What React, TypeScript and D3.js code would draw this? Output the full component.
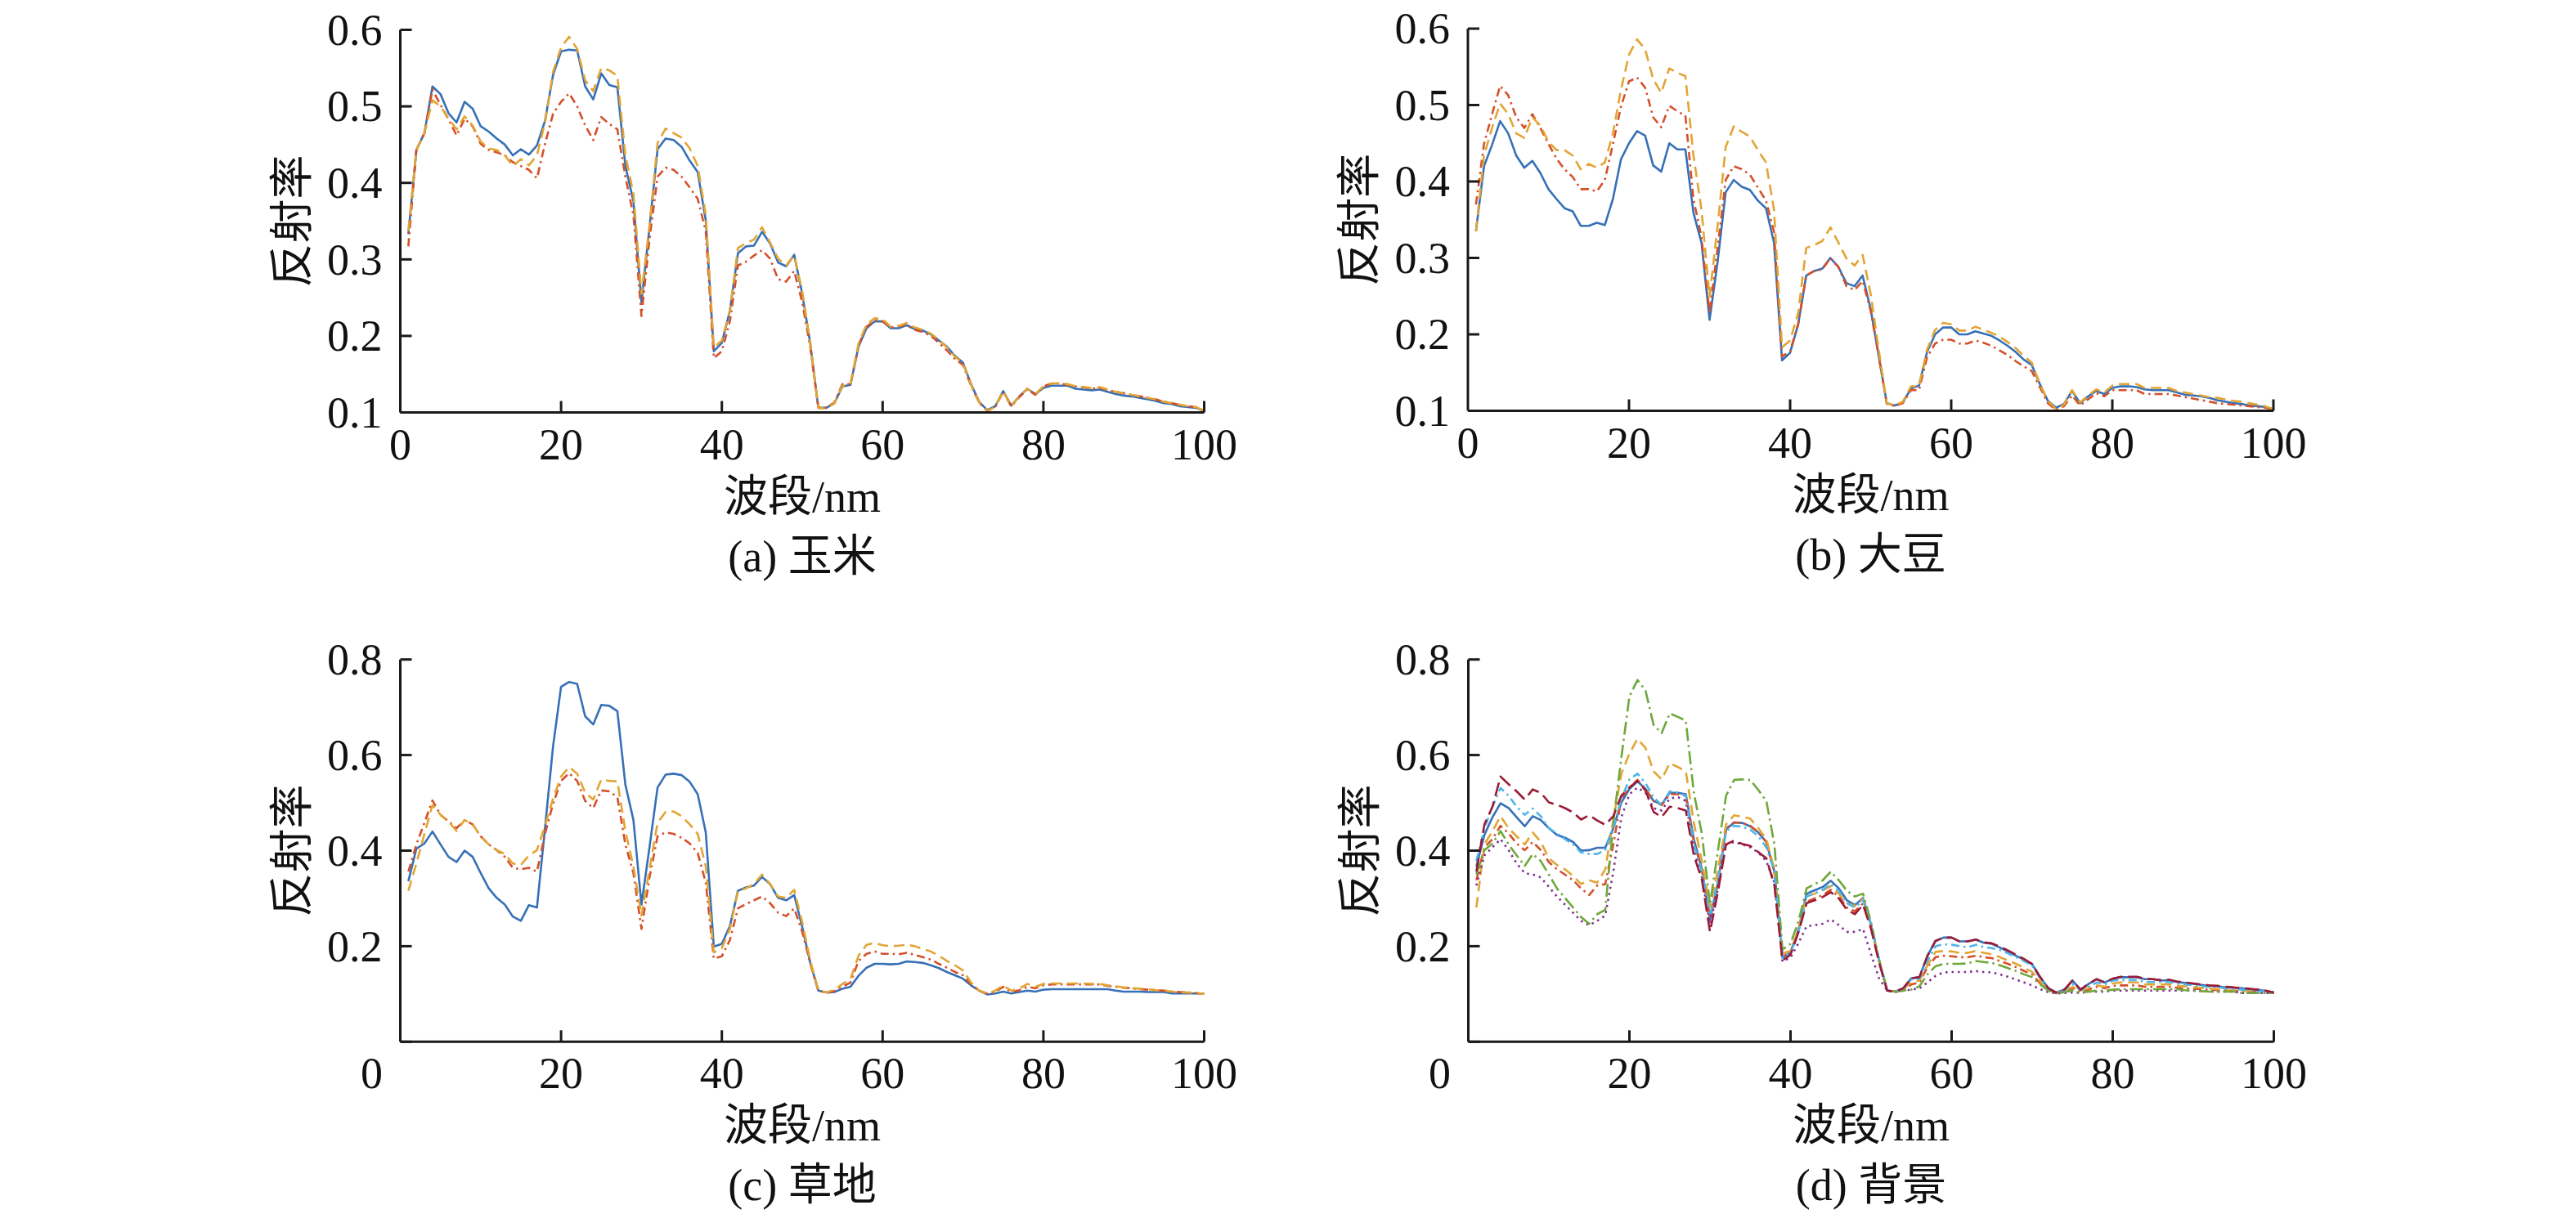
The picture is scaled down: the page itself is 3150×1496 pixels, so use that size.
import React from 'react';
import * as d3 from 'd3';

// band index 1..100 (x axis, nm)
const BANDS = Array.from({ length: 100 }, (_, i) => i + 1);
const X_TICKS = [0, 20, 40, 60, 80, 100];
const Y_TICKS_TOP = [0.1, 0.2, 0.3, 0.4, 0.5, 0.6];
const Y_TICKS_BOTTOM = [0, 0.2, 0.4, 0.6, 0.8];

// (a) 玉米
const A_BLUE = [
  0.333, 0.443, 0.465, 0.526, 0.516, 0.491, 0.479, 0.506, 0.497, 0.474,
  0.467, 0.458, 0.45, 0.436, 0.444, 0.437, 0.449, 0.481, 0.541, 0.572,
  0.574, 0.573, 0.526, 0.509, 0.543, 0.528, 0.525, 0.422, 0.376, 0.244,
  0.342, 0.444, 0.458, 0.456, 0.447, 0.429, 0.414, 0.351, 0.18, 0.191,
  0.233, 0.308, 0.317, 0.318, 0.336, 0.321, 0.296, 0.291, 0.306, 0.255,
  0.19, 0.106, 0.106, 0.112, 0.134, 0.136, 0.186, 0.21, 0.219, 0.219,
  0.21, 0.21, 0.214, 0.209, 0.207, 0.202, 0.194, 0.186, 0.174, 0.165,
  0.137, 0.114, 0.103, 0.108, 0.128, 0.109, 0.121, 0.131, 0.124, 0.132,
  0.135, 0.135, 0.135, 0.131, 0.13, 0.129, 0.13, 0.127, 0.124, 0.122,
  0.121, 0.119, 0.117, 0.115, 0.112, 0.111, 0.108, 0.107, 0.106, 0.102,
];
const A_RED = [
  0.317, 0.443, 0.465, 0.522, 0.502, 0.483, 0.462, 0.484, 0.474, 0.451,
  0.443, 0.44, 0.436, 0.427, 0.422, 0.417, 0.406, 0.451, 0.49, 0.506,
  0.517, 0.5, 0.475, 0.456, 0.486, 0.477, 0.47, 0.408, 0.358, 0.226,
  0.326, 0.408, 0.42, 0.417, 0.408, 0.394, 0.379, 0.337, 0.171, 0.18,
  0.219, 0.292, 0.297, 0.305, 0.312, 0.301, 0.274, 0.271, 0.285, 0.244,
  0.185, 0.107, 0.106, 0.113, 0.137, 0.137, 0.188, 0.212, 0.22, 0.219,
  0.211, 0.213, 0.214, 0.208, 0.205, 0.2, 0.191, 0.181, 0.17, 0.162,
  0.135, 0.113, 0.102, 0.107, 0.127, 0.108, 0.12, 0.13, 0.123, 0.134,
  0.138, 0.138, 0.136, 0.134, 0.133, 0.131, 0.132, 0.129, 0.127, 0.125,
  0.123, 0.121, 0.119, 0.117, 0.114, 0.112, 0.11, 0.108, 0.107, 0.102,
];
const A_YELLOW = [
  0.337, 0.443, 0.465, 0.508, 0.5, 0.484, 0.47, 0.487, 0.475, 0.454,
  0.445, 0.443, 0.436, 0.422, 0.431, 0.423, 0.436, 0.479, 0.545, 0.577,
  0.591, 0.575, 0.534, 0.52, 0.55, 0.547, 0.54, 0.436, 0.386, 0.255,
  0.344, 0.452, 0.471, 0.465, 0.459, 0.445, 0.422, 0.358, 0.185, 0.194,
  0.233, 0.315, 0.321, 0.326, 0.342, 0.322, 0.301, 0.292, 0.305, 0.258,
  0.19, 0.106, 0.105, 0.112, 0.135, 0.137, 0.19, 0.215, 0.223, 0.222,
  0.212, 0.213, 0.217, 0.211, 0.208, 0.203, 0.195, 0.185, 0.173, 0.164,
  0.136, 0.113, 0.102, 0.107, 0.128, 0.108, 0.121, 0.131, 0.124, 0.134,
  0.138, 0.138, 0.137, 0.134, 0.133, 0.132, 0.133, 0.13, 0.127, 0.125,
  0.123, 0.121, 0.119, 0.117, 0.114, 0.112, 0.11, 0.108, 0.107, 0.102,
];

// (b) 大豆
const B_BLUE = [
  0.335, 0.42, 0.448, 0.479, 0.463, 0.434, 0.418, 0.427, 0.411, 0.39,
  0.377, 0.365, 0.361, 0.342, 0.342, 0.346, 0.343, 0.377, 0.429, 0.45,
  0.466, 0.46, 0.421, 0.413, 0.45, 0.442, 0.442, 0.359, 0.32, 0.219,
  0.295, 0.386, 0.402, 0.393, 0.389, 0.375, 0.365, 0.32, 0.166, 0.176,
  0.213, 0.277, 0.283, 0.286, 0.3, 0.288, 0.267, 0.263, 0.277, 0.233,
  0.172, 0.11, 0.107, 0.111, 0.129, 0.133, 0.177, 0.2, 0.209, 0.209,
  0.2, 0.2, 0.204, 0.201, 0.198, 0.192, 0.185, 0.177, 0.167, 0.16,
  0.135, 0.113, 0.104, 0.109, 0.126, 0.11, 0.119, 0.126, 0.122, 0.13,
  0.132, 0.132, 0.131, 0.128, 0.127, 0.127, 0.127, 0.124, 0.121, 0.12,
  0.119, 0.117, 0.114, 0.112, 0.11, 0.109, 0.107, 0.106, 0.105, 0.102,
];
const B_RED = [
  0.37, 0.449, 0.488, 0.525, 0.513, 0.484, 0.47, 0.488, 0.47, 0.449,
  0.43, 0.416, 0.406, 0.39, 0.39, 0.387, 0.402, 0.449, 0.498, 0.531,
  0.536, 0.523, 0.484, 0.471, 0.499, 0.492, 0.486, 0.377, 0.327, 0.228,
  0.313, 0.402, 0.42, 0.416, 0.409, 0.392, 0.375, 0.334, 0.171, 0.178,
  0.213, 0.277, 0.283, 0.285, 0.3, 0.288, 0.263, 0.258, 0.27, 0.231,
  0.172, 0.109, 0.106, 0.11, 0.127, 0.127, 0.17, 0.188, 0.193, 0.193,
  0.188, 0.188, 0.192, 0.189, 0.185, 0.179, 0.173, 0.165, 0.158, 0.152,
  0.131, 0.11, 0.101, 0.106, 0.12, 0.107, 0.115, 0.123, 0.119, 0.127,
  0.127, 0.127, 0.127, 0.122, 0.122, 0.122, 0.122, 0.12, 0.118, 0.116,
  0.114, 0.112, 0.11, 0.109, 0.108, 0.107, 0.106, 0.105, 0.104, 0.102,
];
const B_YELLOW = [
  0.335, 0.434, 0.47, 0.502, 0.488, 0.463, 0.457, 0.484, 0.473, 0.452,
  0.441, 0.441, 0.434, 0.416, 0.423, 0.418, 0.425, 0.463, 0.52, 0.566,
  0.586, 0.573, 0.534, 0.516, 0.548, 0.542, 0.538, 0.434, 0.363, 0.249,
  0.342, 0.445, 0.472, 0.465, 0.459, 0.441, 0.425, 0.363, 0.183, 0.192,
  0.228, 0.313, 0.317, 0.322, 0.34, 0.32, 0.299, 0.29, 0.304, 0.253,
  0.18, 0.11, 0.107, 0.112, 0.132, 0.132, 0.18, 0.206, 0.215, 0.213,
  0.205, 0.205, 0.21, 0.206, 0.202, 0.197, 0.19, 0.182, 0.172, 0.163,
  0.135, 0.113, 0.102, 0.108, 0.127, 0.111, 0.12, 0.128, 0.124, 0.133,
  0.135, 0.135, 0.135, 0.13, 0.13, 0.13, 0.13, 0.126, 0.124, 0.122,
  0.12, 0.118, 0.117, 0.115, 0.113, 0.112, 0.11, 0.108, 0.106, 0.102,
];

// (c) 草地
const C_BLUE = [
  0.336, 0.404, 0.415, 0.44, 0.413, 0.387, 0.376, 0.4, 0.387, 0.353,
  0.321, 0.301, 0.287, 0.262, 0.253, 0.286, 0.281, 0.447, 0.618, 0.743,
  0.753, 0.749, 0.681, 0.664, 0.705, 0.703, 0.692, 0.538, 0.464, 0.287,
  0.407, 0.532, 0.559, 0.561, 0.558, 0.544, 0.518, 0.438, 0.199, 0.205,
  0.242, 0.316, 0.323, 0.327, 0.345, 0.33, 0.301, 0.296, 0.307, 0.24,
  0.165, 0.107, 0.103, 0.104, 0.111, 0.115, 0.138, 0.155, 0.163, 0.163,
  0.162, 0.163, 0.168, 0.167, 0.165, 0.16, 0.154, 0.146, 0.139, 0.132,
  0.118, 0.107, 0.099, 0.101, 0.105, 0.101, 0.104, 0.107, 0.105, 0.109,
  0.11, 0.11, 0.11, 0.11, 0.11, 0.11, 0.11, 0.11, 0.107, 0.105,
  0.105, 0.105, 0.104, 0.104, 0.104, 0.101, 0.101, 0.101, 0.101, 0.101,
];
const C_RED = [
  0.356, 0.413, 0.458, 0.505, 0.475, 0.461, 0.447, 0.464, 0.455, 0.43,
  0.413, 0.401, 0.387, 0.364, 0.361, 0.364, 0.356, 0.435, 0.498, 0.546,
  0.562, 0.546, 0.504, 0.489, 0.526, 0.524, 0.512, 0.413, 0.353, 0.236,
  0.344, 0.43, 0.438, 0.435, 0.427, 0.415, 0.395, 0.333, 0.174, 0.179,
  0.213, 0.279, 0.288, 0.296, 0.304, 0.29, 0.27, 0.263, 0.279, 0.23,
  0.165, 0.107, 0.103, 0.106, 0.115, 0.124, 0.169, 0.184, 0.189, 0.184,
  0.184, 0.183, 0.186, 0.182, 0.177, 0.172, 0.163, 0.155, 0.146, 0.139,
  0.121, 0.107, 0.101, 0.104, 0.115, 0.104, 0.108, 0.115, 0.112, 0.118,
  0.12, 0.12, 0.12, 0.12, 0.12, 0.12, 0.12, 0.117, 0.115, 0.113,
  0.112, 0.11, 0.109, 0.108, 0.107, 0.105, 0.104, 0.103, 0.102, 0.1,
];
const C_YELLOW = [
  0.316, 0.373, 0.435, 0.495, 0.475, 0.461, 0.441, 0.464, 0.455, 0.43,
  0.413, 0.401, 0.393, 0.373, 0.37, 0.39, 0.401, 0.452, 0.509, 0.555,
  0.575, 0.561, 0.521, 0.507, 0.549, 0.546, 0.545, 0.441, 0.367, 0.264,
  0.361, 0.458, 0.481, 0.482, 0.472, 0.455, 0.435, 0.367, 0.187, 0.196,
  0.236, 0.316, 0.321, 0.33, 0.35, 0.33, 0.304, 0.301, 0.318, 0.25,
  0.17, 0.107, 0.103, 0.109, 0.121, 0.131, 0.18, 0.203, 0.207, 0.202,
  0.2, 0.201, 0.203, 0.2, 0.194, 0.189, 0.18, 0.169, 0.16, 0.149,
  0.124, 0.107, 0.101, 0.107, 0.118, 0.107, 0.111, 0.121, 0.115, 0.121,
  0.122, 0.122, 0.122, 0.122, 0.122, 0.121, 0.121, 0.118, 0.116, 0.114,
  0.112, 0.111, 0.11, 0.108, 0.107, 0.105, 0.104, 0.103, 0.102, 0.1,
];

// (d) 背景
const D_BLUE = [
  0.367, 0.433, 0.47, 0.499, 0.489, 0.47, 0.451, 0.472, 0.464, 0.447,
  0.433, 0.427, 0.418, 0.4, 0.401, 0.406, 0.406, 0.447, 0.501, 0.529,
  0.545, 0.529, 0.504, 0.497, 0.521, 0.521, 0.518, 0.424, 0.361, 0.256,
  0.333, 0.444, 0.459, 0.458, 0.451, 0.438, 0.418, 0.356, 0.176, 0.187,
  0.236, 0.31, 0.317, 0.324, 0.337, 0.321, 0.296, 0.286, 0.301, 0.245,
  0.17, 0.107, 0.105, 0.112, 0.133, 0.135, 0.18, 0.211, 0.218, 0.218,
  0.21, 0.21, 0.214, 0.207, 0.205, 0.197, 0.189, 0.18, 0.172, 0.162,
  0.135, 0.112, 0.103, 0.109, 0.128, 0.109, 0.121, 0.131, 0.124, 0.132,
  0.135, 0.135, 0.135, 0.131, 0.131, 0.128, 0.129, 0.125, 0.123, 0.121,
  0.119, 0.117, 0.116, 0.114, 0.113, 0.112, 0.11, 0.109, 0.106, 0.103,
];
const D_RED = [
  0.338, 0.407, 0.424, 0.452, 0.436, 0.415, 0.401, 0.418, 0.401, 0.376,
  0.361, 0.35, 0.338, 0.321, 0.307, 0.327, 0.33, 0.413, 0.509, 0.532,
  0.548, 0.529, 0.504, 0.495, 0.518, 0.518, 0.515, 0.418, 0.361, 0.259,
  0.333, 0.447, 0.459, 0.458, 0.452, 0.438, 0.418, 0.356, 0.179, 0.187,
  0.233, 0.293, 0.3, 0.307, 0.318, 0.304, 0.281, 0.273, 0.29, 0.241,
  0.17, 0.107, 0.105, 0.108, 0.12, 0.124, 0.156, 0.177, 0.18, 0.179,
  0.177, 0.177, 0.18, 0.177, 0.175, 0.169, 0.163, 0.156, 0.148, 0.141,
  0.122, 0.108, 0.102, 0.105, 0.112, 0.105, 0.109, 0.115, 0.112, 0.117,
  0.118, 0.118, 0.118, 0.115, 0.115, 0.115, 0.115, 0.113, 0.112, 0.111,
  0.11, 0.109, 0.108, 0.107, 0.107, 0.106, 0.105, 0.104, 0.103, 0.102,
];
const D_YELLOW = [
  0.281, 0.413, 0.441, 0.472, 0.447, 0.43, 0.413, 0.438, 0.418, 0.384,
  0.37, 0.361, 0.347, 0.33, 0.338, 0.333, 0.361, 0.464, 0.561, 0.603,
  0.634, 0.615, 0.566, 0.549, 0.583, 0.575, 0.566, 0.458, 0.378, 0.281,
  0.361, 0.455, 0.474, 0.471, 0.467, 0.447, 0.424, 0.361, 0.185, 0.19,
  0.236, 0.304, 0.31, 0.317, 0.326, 0.31, 0.29, 0.284, 0.299, 0.244,
  0.17, 0.107, 0.105, 0.11, 0.125, 0.128, 0.16, 0.188, 0.19, 0.189,
  0.186, 0.186, 0.19, 0.186, 0.183, 0.177, 0.17, 0.163, 0.155, 0.146,
  0.126, 0.109, 0.102, 0.107, 0.115, 0.107, 0.112, 0.118, 0.115, 0.122,
  0.124, 0.124, 0.124, 0.12, 0.12, 0.12, 0.12, 0.117, 0.116, 0.114,
  0.113, 0.111, 0.11, 0.108, 0.107, 0.107, 0.106, 0.105, 0.104, 0.102,
];
const D_PURPLE = [
  0.327, 0.39, 0.407, 0.424, 0.401, 0.373, 0.353, 0.35, 0.344, 0.324,
  0.304, 0.287, 0.27, 0.253, 0.244, 0.253, 0.264, 0.356, 0.47, 0.518,
  0.532, 0.521, 0.489, 0.484, 0.509, 0.512, 0.504, 0.401, 0.344, 0.247,
  0.321, 0.413, 0.418, 0.413, 0.407, 0.396, 0.378, 0.333, 0.168, 0.176,
  0.207, 0.242, 0.244, 0.247, 0.256, 0.244, 0.23, 0.23, 0.236, 0.183,
  0.132, 0.107, 0.104, 0.107, 0.109, 0.112, 0.124, 0.138, 0.145, 0.146,
  0.146, 0.146, 0.148, 0.146, 0.145, 0.141, 0.136, 0.13, 0.124, 0.118,
  0.11, 0.104, 0.101, 0.102, 0.103, 0.102, 0.105, 0.105, 0.105, 0.107,
  0.107, 0.107, 0.107, 0.107, 0.107, 0.107, 0.107, 0.107, 0.107, 0.107,
  0.106, 0.105, 0.105, 0.105, 0.105, 0.102, 0.102, 0.102, 0.102, 0.102,
];
const D_GREEN = [
  0.35, 0.401, 0.415, 0.441, 0.413, 0.39, 0.368, 0.393, 0.378, 0.35,
  0.321, 0.301, 0.281, 0.261, 0.247, 0.267, 0.276, 0.458, 0.595, 0.723,
  0.757, 0.735, 0.663, 0.646, 0.687, 0.68, 0.672, 0.521, 0.435, 0.287,
  0.401, 0.515, 0.548, 0.549, 0.548, 0.527, 0.504, 0.413, 0.193, 0.205,
  0.253, 0.321, 0.33, 0.338, 0.356, 0.338, 0.316, 0.304, 0.31, 0.25,
  0.17, 0.107, 0.105, 0.107, 0.109, 0.116, 0.141, 0.158, 0.163, 0.163,
  0.163, 0.164, 0.169, 0.167, 0.165, 0.16, 0.154, 0.148, 0.141, 0.135,
  0.12, 0.107, 0.101, 0.104, 0.107, 0.103, 0.105, 0.107, 0.107, 0.109,
  0.11, 0.11, 0.11, 0.11, 0.11, 0.11, 0.11, 0.11, 0.108, 0.107,
  0.106, 0.105, 0.105, 0.105, 0.105, 0.102, 0.102, 0.102, 0.102, 0.102,
];
const D_LIGHTBLUE = [
  0.378, 0.447, 0.492, 0.531, 0.515, 0.492, 0.475, 0.488, 0.472, 0.447,
  0.436, 0.424, 0.413, 0.396, 0.393, 0.393, 0.401, 0.447, 0.509, 0.549,
  0.561, 0.541, 0.512, 0.495, 0.524, 0.521, 0.515, 0.413, 0.356, 0.264,
  0.339, 0.441, 0.452, 0.45, 0.444, 0.43, 0.407, 0.356, 0.176, 0.185,
  0.23, 0.304, 0.311, 0.318, 0.33, 0.316, 0.29, 0.281, 0.296, 0.244,
  0.17, 0.107, 0.105, 0.111, 0.13, 0.132, 0.169, 0.2, 0.204, 0.203,
  0.2, 0.198, 0.203, 0.198, 0.196, 0.192, 0.185, 0.177, 0.169, 0.159,
  0.132, 0.111, 0.103, 0.108, 0.121, 0.108, 0.115, 0.124, 0.12, 0.128,
  0.129, 0.129, 0.129, 0.125, 0.125, 0.125, 0.125, 0.122, 0.12, 0.118,
  0.116, 0.115, 0.114, 0.112, 0.111, 0.109, 0.108, 0.106, 0.105, 0.102,
];
const D_DARKRED = [
  0.356, 0.455, 0.492, 0.555, 0.539, 0.524, 0.507, 0.528, 0.521, 0.501,
  0.496, 0.489, 0.48, 0.465, 0.474, 0.463, 0.454, 0.472, 0.515, 0.532,
  0.546, 0.526, 0.481, 0.47, 0.492, 0.489, 0.484, 0.39, 0.339, 0.23,
  0.315, 0.413, 0.421, 0.414, 0.41, 0.397, 0.384, 0.327, 0.17, 0.182,
  0.23, 0.29, 0.296, 0.303, 0.313, 0.3, 0.276, 0.267, 0.287, 0.236,
  0.165, 0.107, 0.105, 0.112, 0.133, 0.135, 0.18, 0.211, 0.218, 0.218,
  0.21, 0.21, 0.214, 0.208, 0.206, 0.199, 0.191, 0.182, 0.173, 0.163,
  0.135, 0.112, 0.103, 0.109, 0.128, 0.109, 0.121, 0.131, 0.124, 0.132,
  0.136, 0.136, 0.136, 0.132, 0.131, 0.129, 0.13, 0.126, 0.124, 0.122,
  0.12, 0.118, 0.117, 0.115, 0.114, 0.112, 0.111, 0.109, 0.107, 0.103,
];

const COLOR = {
  blue: '#3670b7',
  red: '#d4502a',
  yellow: '#e2a534',
  purple: '#7e3090',
  green: '#6ea83a',
  lightBlue: '#4fb5e6',
  darkRed: '#9b1b36',
};

const DASH = {
  solid: null,
  dashDot: '10,5,2.5,5',
  dashed: '13,7',
  dotted: '2.5,5',
  longDashDot: '16,5,2.5,5',
  longDashed: '17,7',
};

const FONT = "'Liberation Serif', 'Times New Roman', 'Noto Sans CJK SC', serif";

type Series = { values: number[]; color: string; dash: string | null };

interface PanelProps {
  left: number;
  right: number;
  top: number;
  bottom: number;
  yDomain: [number, number];
  yTicks: number[];
  series: Series[];
  caption: string;
  zeroShift: number;
}

function Panel({ left, right, top, bottom, yDomain, yTicks, series, caption, zeroShift }: PanelProps) {
  const x = d3.scaleLinear().domain([0, 100]).range([left, right]);
  const y = d3.scaleLinear().domain(yDomain).range([bottom, top]);
  const line = d3
    .line<number>()
    .x((_, i) => x(BANDS[i]))
    .y((d) => y(d));
  const fmt = d3.format('.1f');
  const tickLen = 14;
  const midX = (left + right) / 2;
  const midY = (top + bottom) / 2;

  return (
    <g>
      {series.map((s, i) => (
        <path
          key={i}
          d={line(s.values) ?? ''}
          fill="none"
          stroke={s.color}
          strokeWidth={2.6}
          strokeDasharray={s.dash ?? undefined}
          strokeLinejoin="round"
        />
      ))}

      {/* axes */}
      <line x1={left} x2={right} y1={bottom} y2={bottom} stroke="#1a1a1a" strokeWidth={3} />
      <line x1={left} x2={left} y1={bottom} y2={y(yDomain[1])} stroke="#1a1a1a" strokeWidth={3} />

      {X_TICKS.map((t) => (
        <g key={`x${t}`}>
          {t > 0 && (
            <line x1={x(t)} x2={x(t)} y1={bottom} y2={bottom - tickLen} stroke="#1a1a1a" strokeWidth={3} />
          )}
          <text
            x={x(t) + (t === 0 ? zeroShift : 0)}
            y={bottom + 57}
            textAnchor="middle"
            fontSize={54}
            fontFamily={FONT}
            fill="#111"
          >
            {t}
          </text>
        </g>
      ))}

      {yTicks.map((t) => (
        <g key={`y${t}`}>
          <line x1={left} x2={left + tickLen} y1={y(t)} y2={y(t)} stroke="#1a1a1a" strokeWidth={3} />
          {t > 0 && (
            <text
              x={left - 22}
              y={y(t)}
              dy="0.34em"
              textAnchor="end"
              fontSize={54}
              fontFamily={FONT}
              fill="#111"
            >
              {fmt(t)}
            </text>
          )}
        </g>
      ))}

      <text
        transform={`translate(${left - 132},${midY}) rotate(-90)`}
        textAnchor="middle"
        dominantBaseline="central"
        fontSize={54}
        fontFamily={FONT}
        fill="#111"
      >
        反射率
      </text>
      <text x={midX} y={bottom + 121} textAnchor="middle" fontSize={54} fontFamily={FONT} fill="#111">
        波段/nm
      </text>
      <text x={midX} y={bottom + 194} textAnchor="middle" fontSize={54} fontFamily={FONT} fill="#111">
        {caption}
      </text>
    </g>
  );
}

export default function App() {
  const panels: PanelProps[] = [
    {
      left: 489.5, right: 1472.5, top: 36.5, bottom: 504.5,
      yDomain: [0.1, 0.6], yTicks: Y_TICKS_TOP, caption: '(a) 玉米', zeroShift: 0,
      series: [
        { values: A_BLUE, color: COLOR.blue, dash: DASH.solid },
        { values: A_RED, color: COLOR.red, dash: DASH.dashDot },
        { values: A_YELLOW, color: COLOR.yellow, dash: DASH.dashed },
      ],
    },
    {
      left: 1795, right: 2780, top: 35, bottom: 502.5,
      yDomain: [0.1, 0.6], yTicks: Y_TICKS_TOP, caption: '(b) 大豆', zeroShift: 0,
      series: [
        { values: B_BLUE, color: COLOR.blue, dash: DASH.solid },
        { values: B_RED, color: COLOR.red, dash: DASH.dashDot },
        { values: B_YELLOW, color: COLOR.yellow, dash: DASH.dashed },
      ],
    },
    {
      left: 489.5, right: 1472.5, top: 806.7, bottom: 1274.3,
      yDomain: [0, 0.8], yTicks: Y_TICKS_BOTTOM, caption: '(c) 草地', zeroShift: -35,
      series: [
        { values: C_BLUE, color: COLOR.blue, dash: DASH.solid },
        { values: C_RED, color: COLOR.red, dash: DASH.dashDot },
        { values: C_YELLOW, color: COLOR.yellow, dash: DASH.dashed },
      ],
    },
    {
      left: 1795.5, right: 2780.5, top: 806.7, bottom: 1274.3,
      yDomain: [0, 0.8], yTicks: Y_TICKS_BOTTOM, caption: '(d) 背景', zeroShift: -35,
      series: [
        { values: D_BLUE, color: COLOR.blue, dash: DASH.solid },
        { values: D_RED, color: COLOR.red, dash: DASH.dashDot },
        { values: D_YELLOW, color: COLOR.yellow, dash: DASH.dashed },
        { values: D_PURPLE, color: COLOR.purple, dash: DASH.dotted },
        { values: D_GREEN, color: COLOR.green, dash: DASH.longDashDot },
        { values: D_LIGHTBLUE, color: COLOR.lightBlue, dash: DASH.dashDot },
        { values: D_DARKRED, color: COLOR.darkRed, dash: DASH.longDashed },
      ],
    },
  ];

  return (
    <svg
      width={3150}
      height={1496}
      viewBox="0 0 3150 1496"
      style={{ position: 'absolute', left: 0, top: 0, background: '#fff', display: 'block' }}
    >
      <rect width={3150} height={1496} fill="#fff" />
      {panels.map((p, i) => (
        <Panel key={i} {...p} />
      ))}
    </svg>
  );
}
